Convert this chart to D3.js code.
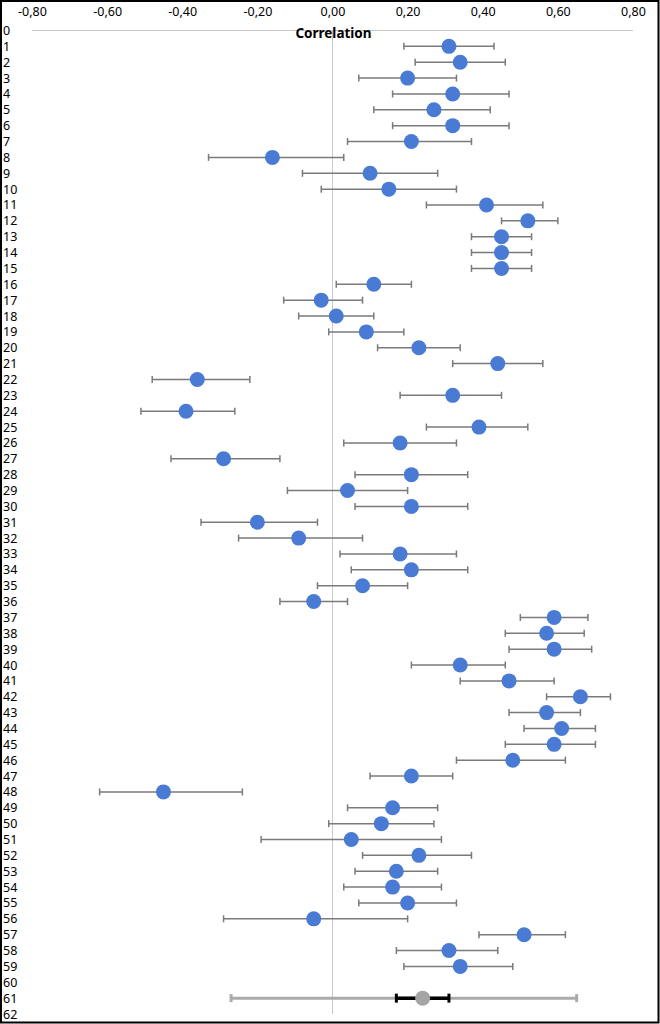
<!DOCTYPE html>
<html>
<head>
<meta charset="utf-8">
<script src="https://cdnjs.cloudflare.com/ajax/libs/d3/7.8.5/d3.min.js"></script>
<style>
  body { margin: 0; background: #fff; }
  svg { display: block; font-family: "Noto Sans", "Open Sans", sans-serif; }
</style>
</head>
<body>
<script>
// study rows and their correlations with 95% CI
var rows = [1,2,3,4,5,6,7,8,9,10,11,12,13,14,15,16,17,18,19,20,
            21,22,23,24,25,26,27,28,29,30,31,32,33,34,35,36,37,38,39,40,
            41,42,43,44,45,46,47,48,49,50,51,52,53,54,55,56,57,58,59];
var estimates = [0.31,0.34,0.20,0.32,0.27,0.32,0.21,-0.16,0.10,0.15,
                 0.41,0.52,0.45,0.45,0.45,0.11,-0.03,0.01,0.09,0.23,
                 0.44,-0.36,0.32,-0.39,0.39,0.18,-0.29,0.21,0.04,0.21,
                 -0.20,-0.09,0.18,0.21,0.08,-0.05,0.59,0.57,0.59,0.34,
                 0.47,0.66,0.57,0.61,0.59,0.48,0.21,-0.45,0.16,0.13,
                 0.05,0.23,0.17,0.16,0.20,-0.05,0.51,0.31,0.34];
var lower = [0.19,0.22,0.07,0.16,0.11,0.16,0.04,-0.33,-0.08,-0.03,
             0.25,0.45,0.37,0.37,0.37,0.01,-0.13,-0.09,-0.01,0.12,
             0.32,-0.48,0.18,-0.51,0.25,0.03,-0.43,0.06,-0.12,0.06,
             -0.35,-0.25,0.02,0.05,-0.04,-0.14,0.50,0.46,0.47,0.21,
             0.34,0.57,0.47,0.51,0.46,0.33,0.10,-0.62,0.04,-0.01,
             -0.19,0.08,0.06,0.03,0.07,-0.29,0.39,0.17,0.19];
var upper = [0.43,0.46,0.33,0.47,0.42,0.47,0.37,0.03,0.28,0.33,
             0.56,0.60,0.53,0.53,0.53,0.21,0.08,0.11,0.19,0.34,
             0.56,-0.22,0.45,-0.26,0.52,0.33,-0.14,0.36,0.20,0.36,
             -0.04,0.08,0.33,0.36,0.20,0.04,0.68,0.67,0.69,0.46,
             0.59,0.74,0.66,0.70,0.70,0.62,0.32,-0.24,0.28,0.27,
             0.29,0.37,0.28,0.29,0.33,0.20,0.62,0.44,0.48];

// pooled estimate (row 61): prediction interval (grey) and CI (black)
var summaryRow = 61;
var summaryEst = 0.24;
var summaryPI = [-0.27, 0.65];
var summaryCI = [0.17, 0.31];

var xTicks = [-0.8,-0.6,-0.4,-0.2,0,0.2,0.4,0.6,0.8];
var yTicks = d3.range(0, 63);

var width = 660, height = 1024;

var svg = d3.select("body").append("svg")
    .attr("width", width)
    .attr("height", height);

var x = d3.scaleLinear().domain([-0.8, 0.8]).range([32, 633]);
var y = d3.scaleLinear().domain([0, 62]).range([30.5, 1014]);

var locale = d3.formatLocale({decimal: ",", thousands: ".", grouping: [3], currency: ["", ""], minus: "-"});
var fmt = locale.format(".2f");

// outer frame
svg.append("rect")
    .attr("x", 1).attr("y", 1)
    .attr("width", width - 2.5).attr("height", height - 2.5)
    .attr("fill", "none")
    .attr("stroke", "#000")
    .attr("stroke-width", 2);

// value axis labels along the top
var xAxis = svg.append("g")
    .attr("transform", "translate(0,20)")
    .call(d3.axisTop(x).tickValues(xTicks).tickSize(0).tickPadding(4).tickFormat(fmt));
xAxis.select(".domain").remove();
xAxis.selectAll("text")
    .attr("font-size", 12.5)
    .attr("font-family", "Noto Sans")
    .attr("fill", "#000");

// axis lines: horizontal at row 0, vertical at 0
svg.append("line")
    .attr("x1", x(-0.8)).attr("x2", x(0.8))
    .attr("y1", y(0)).attr("y2", y(0))
    .attr("stroke", "#c9c9c9").attr("stroke-width", 1);
svg.append("line")
    .attr("x1", x(0)).attr("x2", x(0))
    .attr("y1", y(0)).attr("y2", y(62))
    .attr("stroke", "#c9c9c9").attr("stroke-width", 1);

// row labels on the left
var yAxis = svg.append("g")
    .attr("transform", "translate(0,0)")
    .call(d3.axisLeft(y).tickValues(yTicks).tickSize(0).tickFormat(d3.format("d")));
yAxis.select(".domain").remove();
yAxis.selectAll("text")
    .attr("x", 3)
    .attr("text-anchor", "start")
    .attr("font-size", 12.5)
    .attr("font-family", "Noto Sans")
    .attr("fill", "#000");

svg.append("text")
    .attr("x", x(0) + 1)
    .attr("y", 38)
    .attr("text-anchor", "middle")
    .attr("font-size", 13.5)
    .attr("font-weight", "bold")
    .attr("fill", "#000")
    .text("Correlation");

// study error bars
var studies = rows.map(function(r, i) {
  return {row: r, est: estimates[i], lo: lower[i], hi: upper[i]};
});

var bars = svg.append("g").attr("stroke", "#7a7a7a").attr("stroke-width", 1.5);
bars.selectAll("line.ci")
    .data(studies)
  .enter().append("line")
    .attr("class", "ci")
    .attr("x1", function(d) { return x(d.lo); })
    .attr("x2", function(d) { return x(d.hi); })
    .attr("y1", function(d) { return y(d.row); })
    .attr("y2", function(d) { return y(d.row); });
bars.selectAll("line.capl")
    .data(studies)
  .enter().append("line")
    .attr("class", "capl")
    .attr("x1", function(d) { return x(d.lo); })
    .attr("x2", function(d) { return x(d.lo); })
    .attr("y1", function(d) { return y(d.row) - 3.5; })
    .attr("y2", function(d) { return y(d.row) + 3.5; });
bars.selectAll("line.caph")
    .data(studies)
  .enter().append("line")
    .attr("class", "caph")
    .attr("x1", function(d) { return x(d.hi); })
    .attr("x2", function(d) { return x(d.hi); })
    .attr("y1", function(d) { return y(d.row) - 3.5; })
    .attr("y2", function(d) { return y(d.row) + 3.5; });

svg.append("g").selectAll("circle")
    .data(studies)
  .enter().append("circle")
    .attr("cx", function(d) { return x(d.est); })
    .attr("cy", function(d) { return y(d.row); })
    .attr("r", 7.5)
    .attr("fill", "#4a7bd4");

// summary row
var sy = y(summaryRow);
var sg = svg.append("g");
sg.append("line")
    .attr("x1", x(summaryPI[0])).attr("x2", x(summaryPI[1]))
    .attr("y1", sy).attr("y2", sy)
    .attr("stroke", "#ababab").attr("stroke-width", 3);
summaryPI.forEach(function(v) {
  sg.append("line")
      .attr("x1", x(v)).attr("x2", x(v))
      .attr("y1", sy - 4).attr("y2", sy + 4)
      .attr("stroke", "#ababab").attr("stroke-width", 3);
});
sg.append("line")
    .attr("x1", x(summaryCI[0])).attr("x2", x(summaryCI[1]))
    .attr("y1", sy).attr("y2", sy)
    .attr("stroke", "#000").attr("stroke-width", 3.5);
summaryCI.forEach(function(v) {
  sg.append("line")
      .attr("x1", x(v)).attr("x2", x(v))
      .attr("y1", sy - 4.5).attr("y2", sy + 4.5)
      .attr("stroke", "#000").attr("stroke-width", 3);
});
sg.append("circle")
    .attr("cx", x(summaryEst))
    .attr("cy", sy)
    .attr("r", 7.5)
    .attr("fill", "#a5a5a5");
</script>
</body>
</html>
